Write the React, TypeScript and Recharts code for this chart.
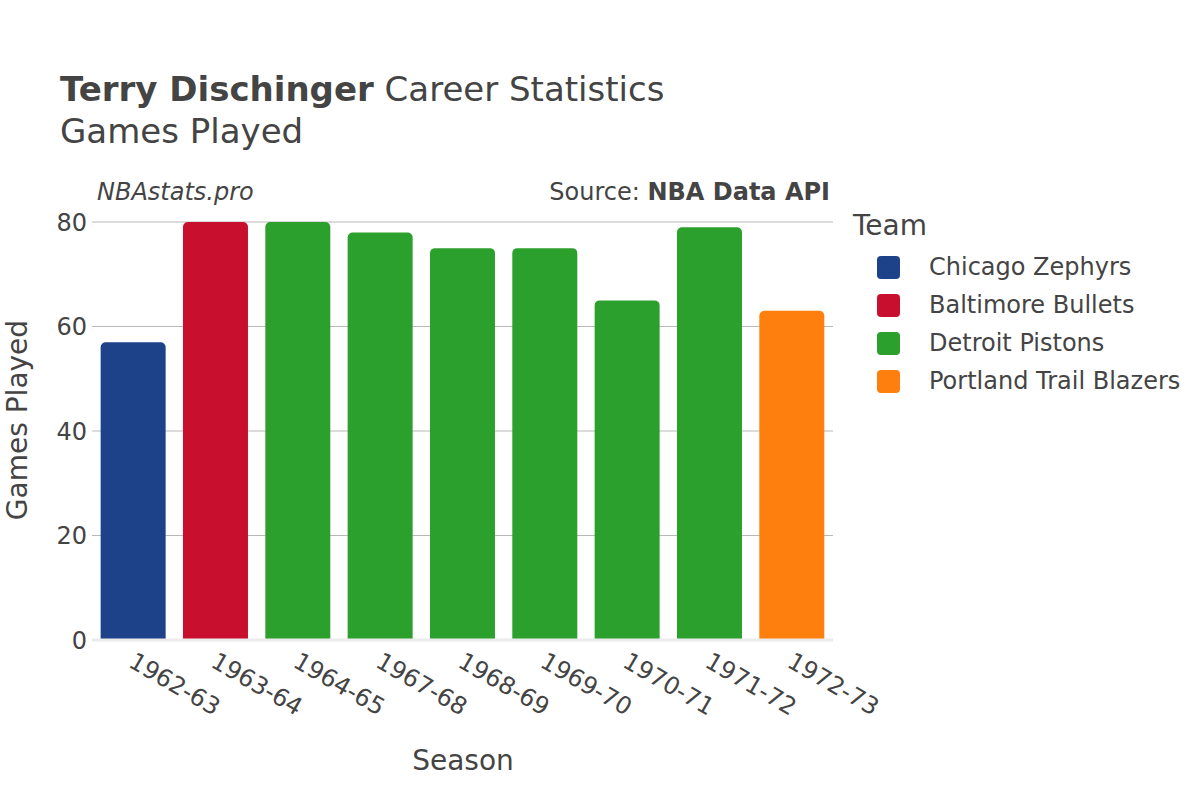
import React from 'react';
import { BarChart, Bar, Cell, XAxis, YAxis, CartesianGrid } from 'recharts';

const seasons = ['1962-63', '1963-64', '1964-65', '1967-68', '1968-69', '1969-70', '1970-71', '1971-72', '1972-73'];
const gamesPlayed = [57, 80, 80, 78, 75, 75, 65, 79, 63];
const seasonTeams = [
  'Chicago Zephyrs',
  'Baltimore Bullets',
  'Detroit Pistons',
  'Detroit Pistons',
  'Detroit Pistons',
  'Detroit Pistons',
  'Detroit Pistons',
  'Detroit Pistons',
  'Portland Trail Blazers',
];
const teams = ['Chicago Zephyrs', 'Baltimore Bullets', 'Detroit Pistons', 'Portland Trail Blazers'];
const teamColors = ['#1d428a', '#c8102e', '#2ca02c', '#ff7f0e'];
const yTicks = [0, 20, 40, 60, 80];

const FONT = '"DejaVu Sans", sans-serif';
const TEXT = '#444';

const colorOf = (team: string) => teamColors[teams.indexOf(team)];

const chartData = seasons.map((season, i) => ({
  season,
  games: gamesPlayed[i],
  team: seasonTeams[i],
}));

const SeasonTick = (props: any) => {
  const { x, y, payload } = props;
  return (
    <g transform={`translate(${x - 6},${y + 18})`}>
      <text
        x={0}
        y={0}
        transform="rotate(30)"
        textAnchor="start"
        fontSize={24}
        fontFamily={FONT}
        fill={TEXT}
      >
        {payload.value}
      </text>
    </g>
  );
};

const TeamLegend = () => (
  <div style={{ position: 'absolute', left: 853, top: 208, fontFamily: FONT, color: TEXT }}>
    <div style={{ fontSize: 28, height: 40, lineHeight: '36px' }}>Team</div>
    {teams.map((team, i) => (
      <div key={team} style={{ display: 'flex', alignItems: 'center', height: 38 }}>
        <div
          style={{
            width: 23,
            height: 23,
            borderRadius: 4,
            background: teamColors[i],
            marginLeft: 24,
            marginRight: 29,
          }}
        />
        <span style={{ fontSize: 24 }}>{team}</span>
      </div>
    ))}
  </div>
);

const App: React.FC = () => {
  return (
    <div style={{ position: 'absolute', left: 0, top: 0, width: 1200, height: 800, background: '#fff' }}>
      <BarChart
        width={1200}
        height={800}
        data={chartData}
        margin={{ top: 222, right: 367, bottom: 60, left: 32 }}
        barCategoryGap="10.5%"
      >
        <CartesianGrid vertical={false} stroke="#b8b8b8" strokeWidth={1} />
        <XAxis
          dataKey="season"
          height={100}
          tickLine={false}
          axisLine={{ stroke: '#ebebeb', strokeWidth: 3 }}
          interval={0}
          tick={<SeasonTick />}
        />
        <YAxis
          width={60}
          domain={[0, 80]}
          ticks={yTicks}
          tickLine={false}
          tickSize={0}
          axisLine={false}
          tickMargin={5}
          tick={{ fontSize: 24, fontFamily: FONT, fill: TEXT }}
        />
        <Bar dataKey="games" radius={[5, 5, 0, 0]} isAnimationActive={false}>
          {chartData.map((entry, index) => (
            <Cell key={`cell-${index}`} fill={colorOf(entry.team)} />
          ))}
        </Bar>
      </BarChart>
      <TeamLegend />
      <svg
        width={1200}
        height={800}
        style={{ position: 'absolute', left: 0, top: 0, pointerEvents: 'none' }}
        fontFamily={FONT}
        fill={TEXT}
      >
        <text x={60} y={101} fontSize={34}>
          <tspan fontWeight="bold">Terry Dischinger</tspan>
          <tspan> Career Statistics</tspan>
        </text>
        <text x={60} y={143} fontSize={34}>Games Played</text>
        <text x={97} y={200} fontSize={24} fontStyle="italic">NBAstats.pro</text>
        <text x={830} y={200} fontSize={24} textAnchor="end">
          <tspan>Source: </tspan>
          <tspan fontWeight="bold">NBA Data API</tspan>
        </text>
        <text x={463} y={770} fontSize={28} textAnchor="middle">Season</text>
        <text
          x={0}
          y={0}
          fontSize={28}
          textAnchor="middle"
          transform="translate(27,420) rotate(-90)"
        >
          Games Played
        </text>
      </svg>
    </div>
  );
};

export default App;
